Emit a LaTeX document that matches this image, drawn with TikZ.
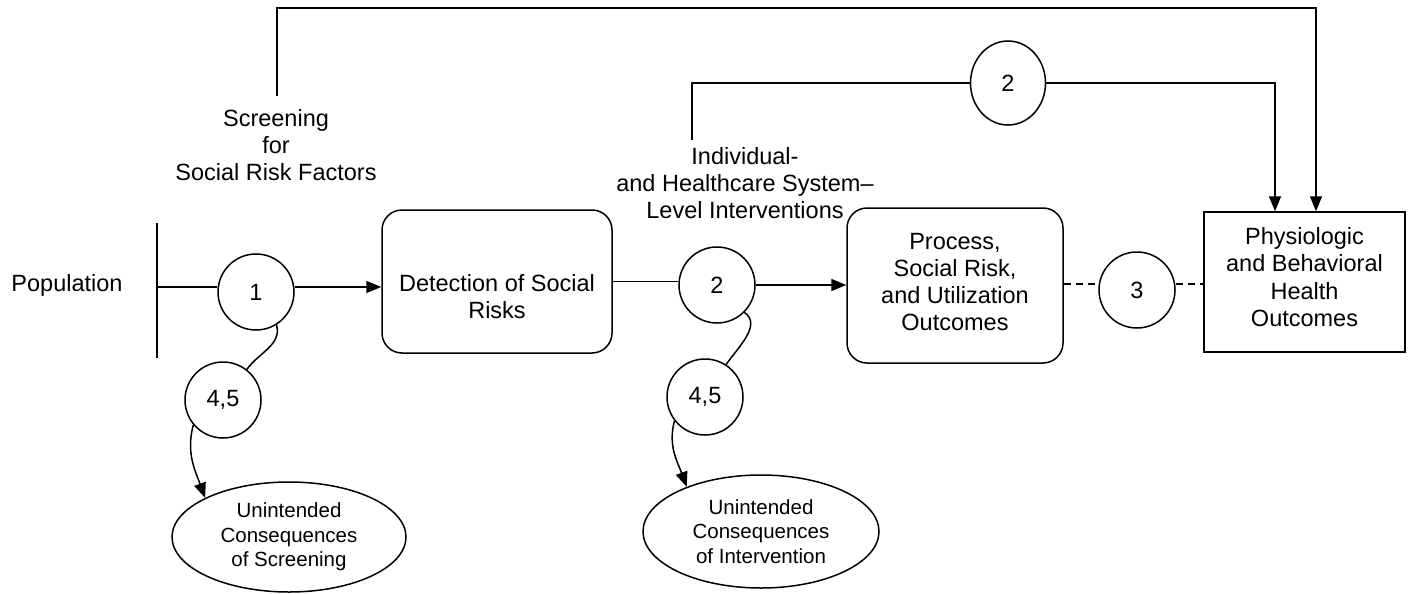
\documentclass[tikz,border=0pt]{standalone}
\usepackage{fontspec}
\setmainfont{Liberation Sans}
\usetikzlibrary{shapes.geometric,arrows.meta}
\begin{document}
\begin{tikzpicture}[x=1pt,y=-1pt,
  every path/.style={line width=1.5pt},
  mainfont/.style={font=\fontsize{23.5}{27.3}\selectfont},
  smallfont/.style={font=\fontsize{20.5}{24.5}\selectfont},
  lbl/.style={mainfont,align=center,inner sep=0pt},
  circ/.style={circle,draw,line width=1.5pt,minimum size=76pt,inner sep=0pt,mainfont},
  rbox/.style={draw,rounded corners=20pt,line width=1.5pt,align=center,mainfont,inner sep=0pt},
  sbox/.style={draw,line width=1.5pt,align=center,mainfont,inner sep=0pt},
  ell/.style={ellipse,draw,line width=1.5pt,align=center,smallfont,inner sep=0pt},
  arr/.style={-{Triangle[length=15pt,width=12pt]}},
  dsh/.style={dash pattern=on 7pt off 5pt}
]
\useasboundingbox (0,0) rectangle (1413,594);

% text labels
\node[lbl] (pop) at (67,285) {Population};
\node[lbl] (scr) at (276,145) {Screening\\for\\Social Risk Factors};
\node[lbl] (ind) at (745,183) {Individual-\\and Healthcare System--\\Level Interventions};

% main nodes
\node[circ] (c1) at (256,292) {1};
\node[rbox,minimum width=230pt,minimum height=143pt,
      label={[lbl,yshift=-15pt]center:Detection of Social\\Risks}] (det) at (497,281.5) {};
\node[circ] (c2) at (717,285) {2};
\node[rbox,minimum width=216pt,minimum height=155pt,
      label={[lbl,yshift=3.5pt]center:Process,\\Social Risk,\\and Utilization\\Outcomes}] (proc) at (955,285.5) {};
\node[circ] (c3) at (1137,290) {3};
\node[sbox,minimum width=201pt,minimum height=140pt,
      label={[lbl,yshift=5pt]center:Physiologic\\and Behavioral\\Health\\Outcomes}] (phys) at (1304.5,282) {};
\node[circ] (c45a) at (223,400) {4,5};
\node[circ] (c45b) at (705,397) {4,5};
\node[ell,minimum width=234pt,minimum height=110pt] (e1) at (289,537)
  {Unintended\\Consequences\\of Screening};
\node[ell,minimum width=236pt,minimum height=113pt] (e2) at (761,531.5)
  {Unintended\\Consequences\\of Intervention};
\node[ellipse,draw,line width=1.5pt,minimum width=75pt,minimum height=84pt,inner sep=0pt,mainfont] (ctop) at (1008,83) {2};

% coordinates for free ends
\coordinate (vt) at (157,223);
\coordinate (vb) at (157,358);
\coordinate (vm) at (157,287);
\coordinate (t1) at (277,96);
\coordinate (t2) at (692,140);

% connectors
\draw (vt) -- (vb);
\draw (vm) -- (vm -| c1.west);
\draw[arr] (c1.east |- vm) -- (det.west |- vm);
\draw (det.east) -- (c2.west |- det.east);
\draw[arr] (c2.east) -- (proc.west |- c2.east);
\draw[dsh] (proc.east |- 0,284) -- (c3.west |- 0,284);
\draw[dsh] (c3.east |- 0,284) -- (phys.west |- 0,284);

\draw (c1.-58) to[out=-75,in=55] (c45a.52);
\draw[arr] (c45a.220) to[out=255,in=110] (e1.155);
\draw (c2.-45) to[out=-35,in=55] (c45b.57);
\draw[arr] (c45b.218) to[out=255,in=110] (e2.149);

\draw[arr] (t1) -- (t1 |- 0,8) -| ([xshift=11.5pt]phys.north);
\draw (t2) |- (ctop.west);
\draw[arr] (ctop.east) -| ([xshift=-29.5pt]phys.north);
\end{tikzpicture}
\end{document}
